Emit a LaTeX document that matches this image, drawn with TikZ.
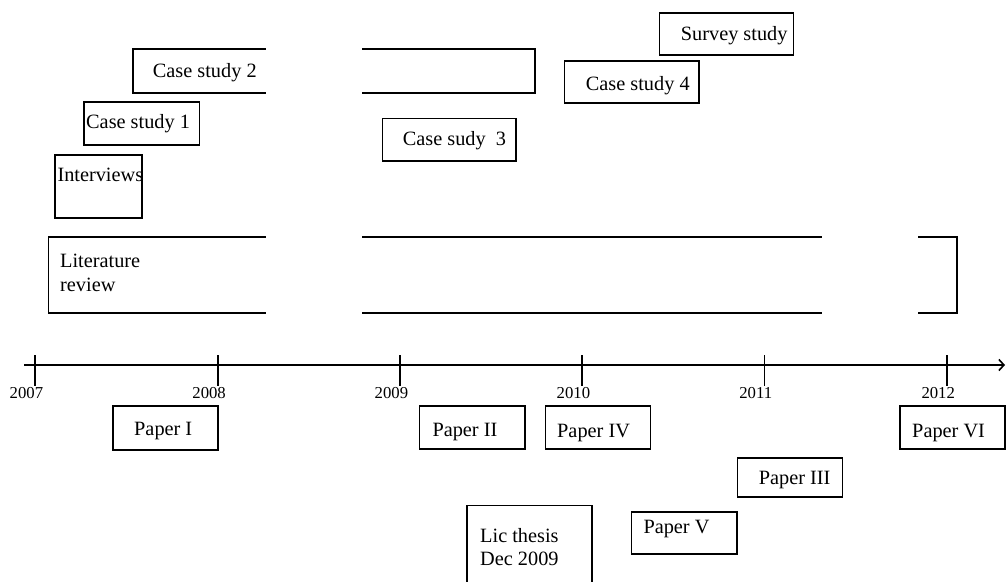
\documentclass[tikz,border=0pt]{standalone}
\usepackage{fontspec}
\setmainfont{Liberation Serif}
\usetikzlibrary{arrows.meta}
\begin{document}
\begin{tikzpicture}[x=1pt,y=-1pt,
  rule/.style={draw, line width=1.6pt},
  frame/.style={draw, rectangle, inner sep=0pt, anchor=north west, line width=1.6pt},
  label/.style={anchor=base west, inner sep=0pt, font=\fontsize{20.3}{23}\selectfont},
  year/.style={anchor=base, inner sep=0pt, font=\fontsize{16.7}{18}\selectfont},
]
\useasboundingbox (0,0) rectangle (1006,581);

% ---- activities above the time axis ----
\node[frame, minimum width=134pt, minimum height=42.3pt] (survey) at (658.7,12) {};
\node[label] (surveyT) at (680.7,40) {Survey study};

\node[frame, minimum width=134.3pt, minimum height=42pt] (cs4) at (563.7,60.3) {};
\node[label] (cs4T) at (585.7,90.7) {Case study 4};

\node[frame, minimum width=115.4pt, minimum height=43pt] (cs1) at (83.3,101) {};
\node[label] (cs1T) at (86,128) {Case study 1};

\node[frame, minimum width=133.6pt, minimum height=42.3pt] (cs3) at (381.7,117.7) {};
\node[label] (cs3T) at (402.7,145.7) {Case sudy\ \ 3};

\node[frame, minimum width=87pt, minimum height=63.3pt] (interviews) at (54.3,154) {};
\node[label] (interviewsT) at (57.3,181) {Interviews};

% case study 2: an open-ended bar with a break in it
\coordinate (cs2a) at (265.7,48.7);
\coordinate (cs2b) at (265.7,92.7);
\coordinate (cs2c) at (362,48.7);
\coordinate (cs2d) at (362,92.7);
\draw[rule] (cs2a) -- (132.7,48.7) -- (132.7,92.7) -- (cs2b);
\draw[rule] (cs2c) -- (534.7,48.7) -- (534.7,92.7) -- (cs2d);
\node[label] (cs2T) at (152.7,77.7) {Case study 2};

% literature review: a long bar broken twice
\coordinate (lra) at (265.7,236.7);
\coordinate (lrb) at (265.7,312.7);
\coordinate (lrc) at (362,236.7);
\coordinate (lrd) at (362,312.7);
\coordinate (lre) at (821.7,236.7);
\coordinate (lrf) at (821.7,312.7);
\coordinate (lrg) at (918.3,236.7);
\coordinate (lrh) at (918.3,312.7);
\draw[rule] (lra) -- (48.3,236.7) -- (48.3,312.7) -- (lrb);
\draw[rule] (lrc) -- (lre);
\draw[rule] (lrd) -- (lrf);
\draw[rule] (lrg) -- (956.7,236.7) -- (956.7,312.7) -- (lrh);
\node[label] (lrT1) at (60,267.7) {Literature};
\node[label] (lrT2) at (60,291) {review};

% ---- time axis ----
\coordinate (axisStart) at (24,365);
\coordinate (axisEnd) at (1005,365);
\draw[rule, -{Straight Barb[length=5pt,width=11pt,line width=1.6pt]}] (axisStart) -- (axisEnd);
\foreach \yr/\x in {2007/35, 2008/217.7, 2009/400, 2010/582, 2011/764.3, 2012/946.8}{
  \coordinate (tick\yr) at (\x,355);
  \draw[rule] (tick\yr) -- (\x,386);
  \node[year] (yr\yr) at (\x-8.6,398.3) {\yr};
}

% ---- publications below the time axis ----
\node[frame, minimum width=105pt, minimum height=44pt] (p1) at (112,405) {};
\node[label] (p1T) at (134,435) {Paper I};

\node[frame, minimum width=105.3pt, minimum height=43pt] (p2) at (418.7,405.3) {};
\node[label] (p2T) at (432.3,436) {Paper II};

\node[frame, minimum width=105pt, minimum height=43pt] (p4) at (544.7,405.3) {};
\node[label] (p4T) at (557,437.3) {Paper IV};

\node[frame, minimum width=105pt, minimum height=43pt] (p6) at (899.3,405.3) {};
\node[label] (p6T) at (912,437.3) {Paper VI};

\node[frame, minimum width=105pt, minimum height=38.7pt] (p3) at (736.7,457.3) {};
\node[label] (p3T) at (758.7,484) {Paper III};

\node[frame, minimum width=105.3pt, minimum height=42.3pt] (p5) at (630.7,511) {};
\node[label] (p5T) at (643.3,533.3) {Paper V};

% licentiate thesis box runs past the lower edge
\coordinate (licA) at (467,584);
\coordinate (licB) at (592,584);
\draw[rule] (licA) -- (467,505.3) -- (592,505.3) -- (licB);
\node[label] (licT1) at (480,542.3) {Lic thesis};
\node[label] (licT2) at (480,565) {Dec 2009};
\end{tikzpicture}
\end{document}
